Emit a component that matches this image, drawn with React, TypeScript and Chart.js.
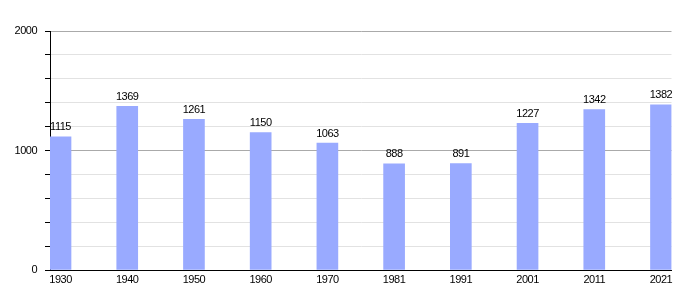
import React, { useEffect, useRef } from "react";
import { Chart, registerables } from "chart.js";

Chart.register(...registerables);

const years = ["1930", "1940", "1950", "1960", "1970", "1981", "1991", "2001", "2011", "2021"];
const population = [1115, 1369, 1261, 1150, 1063, 888, 891, 1227, 1342, 1382];
const yTickLabels = [0, 1000, 2000];

const FONT = "'Liberation Sans', Arial, sans-serif";

const tightText = {
  id: "tightText",
  beforeDraw(chart: any) {
    try {
      (chart.ctx as any).letterSpacing = "-0.5px";
    } catch (e) {}
  },
};

const valueLabels = {
  id: "valueLabels",
  afterDatasetsDraw(chart: any) {
    const ctx = chart.ctx;
    const meta = chart.getDatasetMeta(0);
    ctx.save();
    ctx.font = `11px ${FONT}`;
    ctx.fillStyle = "#000";
    ctx.textAlign = "center";
    ctx.textBaseline = "bottom";
    meta.data.forEach((bar: any, i: number) => {
      ctx.fillText(String(population[i]), bar.x, bar.y - 4);
    });
    ctx.restore();
  },
};

export default function App() {
  const ref = useRef<HTMLCanvasElement>(null);
  useEffect(() => {
    if (!ref.current) return;
    const chart = new Chart(ref.current, {
      type: "bar",
      data: {
        datasets: [
          {
            data: population.map((v, i) => ({ x: i, y: v })),
            backgroundColor: "#99aaff",
            barThickness: 21,
          },
        ],
      },
      options: {
        responsive: false,
        animation: false,
        layout: { padding: { top: 31, right: 28.5, left: 0, bottom: 0 } },
        plugins: { legend: { display: false }, tooltip: { enabled: false } },
        scales: {
          x: {
            type: "linear",
            offset: false,
            min: -0.1575,
            max: 9.1575,
            afterBuildTicks: (scale: any) => {
              scale.ticks = years.map((_, i) => ({ value: i }));
            },
            afterFit: (scale: any) => {
              scale.height = 30;
            },
            grid: { display: false, drawTicks: false },
            border: { display: true, color: "#000", width: 1 },
            ticks: {
              autoSkip: false,
              maxRotation: 0,
              padding: 3,
              color: "#000",
              font: { family: FONT, size: 11 },
              callback: (v: any) => years[v] ?? "",
            },
          },
          y: {
            min: 0,
            max: 2000,
            afterBuildTicks: (scale: any) => {
              const t = [];
              for (let v = 0; v <= 2000; v += 200) t.push({ value: v });
              scale.ticks = t;
            },
            afterFit: (scale: any) => {
              scale.width = 50;
            },
            grid: {
              color: (c: any) => (c.tick && c.tick.value % 1000 === 0 ? "#aaaaaa" : "#e2e2e2"),
              tickColor: "#000",
              tickLength: 5,
              lineWidth: 1,
            },
            border: { display: true, color: "#000", width: 1 },
            ticks: {
              padding: 8,
              color: "#000",
              font: { family: FONT, size: 11 },
              callback: (v: any) => (yTickLabels.includes(v) ? String(v) : ""),
            },
          },
        },
      },
      plugins: [tightText, valueLabels],
    });
    return () => chart.destroy();
  }, []);
  return (
    <div style={{ position: "absolute", left: 0, top: 0, width: 700, height: 300, background: "#fff" }}>
      <canvas ref={ref} width={700} height={300} style={{ display: "block" }} />
    </div>
  );
}
